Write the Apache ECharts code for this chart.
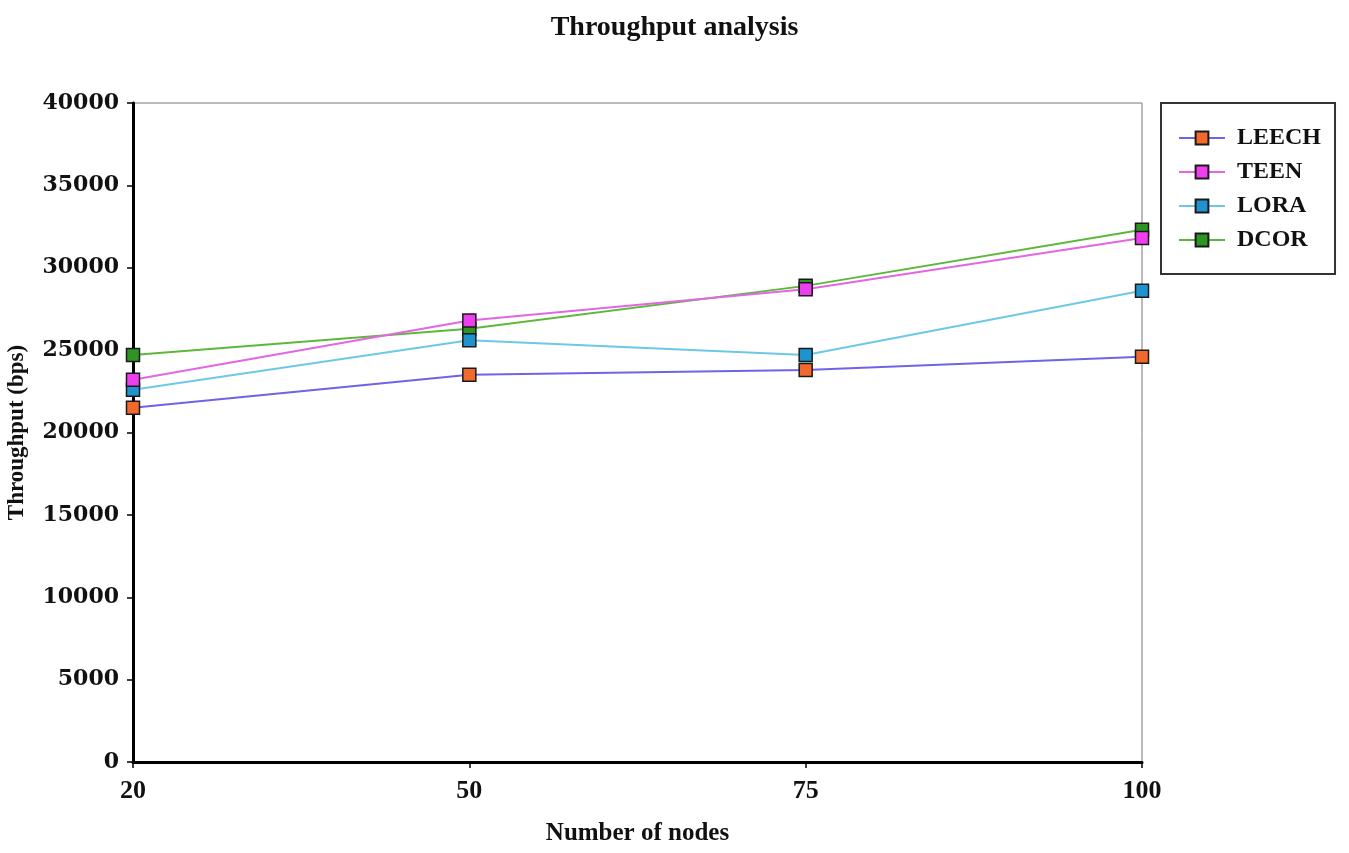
<!DOCTYPE html>
<html><head><meta charset="utf-8">
<script src="https://cdn.jsdelivr.net/npm/echarts@6/dist/echarts.min.js"></script>
<style>html,body{margin:0;padding:0;background:#fff}#c{width:1349px;height:853px}</style>
</head><body><div id="c"></div>
<script>
const categories = ['20', '50', '75', '100'];
const LEECH = [21500, 23500, 23800, 24600];
const TEEN  = [23200, 26800, 28700, 31800];
const LORA  = [22600, 25600, 24700, 28600];
const DCOR  = [24700, 26300, 28900, 32300];
const yTicks = [0, 5000, 10000, 15000, 20000, 25000, 30000, 35000, 40000];

const serif = '"Liberation Serif", "Times New Roman", serif';
function mk(name, data, lineColor, markColor, z) {
  return {
    name, type: 'line', data, z,
    symbol: 'rect', symbolSize: 13,
    lineStyle: { color: lineColor, width: 2 },
    itemStyle: { color: markColor, borderColor: '#1a1a1a', borderWidth: 1.5 },
    emphasis: { disabled: true }
  };
}
const chart = echarts.init(document.getElementById('c'));
chart.setOption({
  animation: false,
  backgroundColor: '#fff',
  title: {
    text: 'Throughput analysis', left: 'center', top: 9,
    textStyle: { fontFamily: serif, fontWeight: 'bold', fontSize: 28, color: '#111' }
  },
  legend: {
    orient: 'vertical', left: 1161, top: 103,
    data: ['LEECH', 'TEEN', 'LORA', 'DCOR'],
    itemWidth: 46, itemHeight: 16, itemGap: 10,
    padding: [23, 14, 22, 17],
    borderColor: '#333', borderWidth: 2, backgroundColor: '#fff',
    textStyle: { fontFamily: serif, fontWeight: 'bold', fontSize: 24, color: '#111', padding: [0, 0, 0, 7] }
  },
  grid: {
    left: 133, right: 207, top: 103, bottom: 91,
    show: true, borderColor: '#777', borderWidth: 1, containLabel: false,
    outerBoundsMode: 'none'
  },
  xAxis: {
    type: 'category', data: categories, boundaryGap: false,
    name: 'Number of nodes', nameLocation: 'middle', nameGap: 59,
    nameTextStyle: { fontFamily: serif, fontWeight: 'bold', fontSize: 25, color: '#111' },
    axisLine: { lineStyle: { color: '#000', width: 3 } },
    axisTick: { show: true, length: 6, lineStyle: { color: '#000', width: 1.5 } },
    axisLabel: { fontFamily: serif, fontWeight: 'bold', fontSize: 26, color: '#111', margin: 16 },
    splitLine: { show: false }
  },
  yAxis: {
    type: 'value', min: yTicks[0], max: yTicks[yTicks.length - 1], interval: yTicks[1] - yTicks[0],
    name: 'Throughput (bps)', nameLocation: 'middle', nameGap: 104,
    nameTextStyle: { fontFamily: serif, fontWeight: 'bold', fontSize: 23, color: '#111' },
    axisLine: { show: true, lineStyle: { color: '#000', width: 3 } },
    axisTick: { show: true, length: 6, lineStyle: { color: '#000', width: 1.5 } },
    axisLabel: { fontFamily: 'DejaVu Serif', fontWeight: 'bold', fontSize: 22, color: '#111', margin: 14,
      formatter: v => String(v) },
    splitLine: { show: false }
  },
  series: [
    mk('LEECH', LEECH, '#6f63e6', '#f2692e', 2),
    mk('DCOR', DCOR, '#5cb83a', '#2e9422', 3),
    mk('LORA', LORA, '#6cc9e6', '#1f93cf', 4),
    mk('TEEN', TEEN, '#e366e3', '#ee3fee', 5)
  ]
});
</script></body></html>
